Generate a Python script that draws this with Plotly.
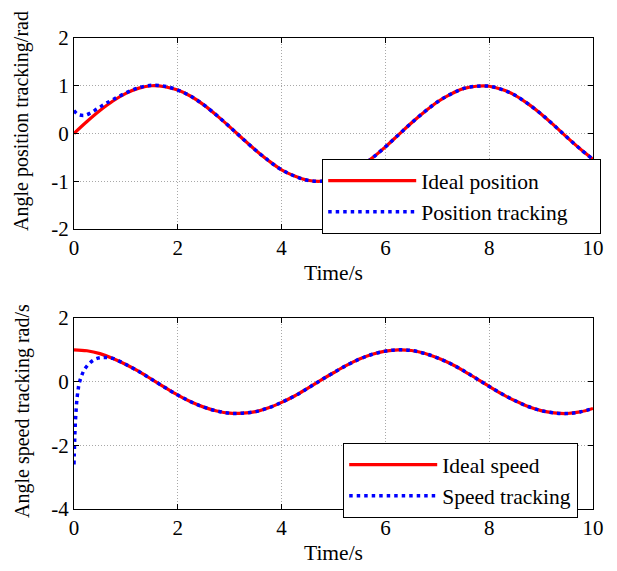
import plotly.graph_objects as go

# ---- data ----
t_ideal = [0, 0.25, 0.5, 0.75, 1, 1.25, 1.5, 1.75, 2, 2.25, 2.5, 2.75, 3, 3.25, 3.5, 3.75,
           4, 4.25, 4.5, 4.75, 5, 5.25, 5.5, 5.75, 6, 6.25, 6.5, 6.75, 7, 7.25, 7.5, 7.75,
           8, 8.25, 8.5, 8.75, 9, 9.25, 9.5, 9.75, 10]
pos_ideal = [0, 0.25, 0.48, 0.68, 0.84, 0.95, 1.00, 0.98, 0.91, 0.78, 0.60, 0.38, 0.14,
             -0.11, -0.35, -0.57, -0.76, -0.89, -0.98, -1.00, -0.96, -0.86, -0.71, -0.51,
             -0.28, -0.03, 0.22, 0.45, 0.66, 0.82, 0.94, 0.99, 0.99, 0.92, 0.80, 0.62, 0.41,
             0.17, -0.08, -0.32, -0.54]
spd_ideal = [1.00, 0.97, 0.88, 0.73, 0.54, 0.32, 0.07, -0.18, -0.42, -0.63, -0.80, -0.92,
             -0.99, -0.99, -0.94, -0.82, -0.65, -0.45, -0.21, 0.04, 0.28, 0.51, 0.71, 0.86,
             0.96, 1.00, 0.98, 0.89, 0.75, 0.57, 0.35, 0.10, -0.15, -0.39, -0.60, -0.78,
             -0.91, -0.98, -1.00, -0.95, -0.84]

t_pos_track = [0, 0.05, 0.1, 0.2, 0.3, 0.45, 0.6, 0.75, 1, 1.25, 1.5, 1.75, 2, 2.25, 2.5,
               2.75, 3, 3.25, 3.5, 3.75, 4, 4.25, 4.5, 4.75, 5, 5.25, 5.5, 5.75, 6, 6.25,
               6.5, 6.75, 7, 7.25, 7.5, 7.75, 8, 8.25, 8.5, 8.75, 9, 9.25, 9.5, 9.75, 10]
pos_track = [0.48, 0.42, 0.39, 0.38, 0.42, 0.52, 0.62, 0.71, 0.85, 0.96, 1.01, 0.99, 0.91,
             0.78, 0.60, 0.38, 0.14, -0.11, -0.35, -0.57, -0.76, -0.89, -0.98, -1.00,
             -0.96, -0.86, -0.71, -0.51, -0.28, -0.03, 0.22, 0.45, 0.66, 0.82, 0.94, 0.99,
             0.99, 0.92, 0.80, 0.62, 0.41, 0.17, -0.08, -0.32, -0.54]

t_spd_track = [0, 0.01, 0.02, 0.04, 0.06, 0.08, 0.1, 0.15, 0.2, 0.3, 0.4, 0.5, 0.6, 0.75,
               1, 1.25, 1.5, 1.75, 2, 2.25, 2.5, 2.75, 3, 3.25, 3.5, 3.75, 4, 4.25, 4.5,
               4.75, 5, 5.25, 5.5, 5.75, 6, 6.25, 6.5, 6.75, 7, 7.25, 7.5, 7.75, 8, 8.25,
               8.5, 8.75, 9, 9.25, 9.5, 9.75, 10]
spd_track = [-2.6, -2.0, -1.5, -0.9, -0.5, -0.25, -0.05, 0.2, 0.38, 0.58, 0.70, 0.75, 0.76,
             0.73, 0.54, 0.32, 0.07, -0.18, -0.42, -0.63, -0.80, -0.92, -0.99, -0.99, -0.94,
             -0.82, -0.65, -0.45, -0.21, 0.04, 0.28, 0.51, 0.71, 0.86, 0.96, 1.00, 0.98,
             0.89, 0.75, 0.57, 0.35, 0.10, -0.15, -0.39, -0.60, -0.78, -0.91, -0.98, -1.00,
             -0.95, -0.84]

x_ticks = [0, 2, 4, 6, 8, 10]
x_labels = ["0", "2", "4", "6", "8", "10"]
y1_ticks = [-2, -1, 0, 1, 2]
y1_labels = ["-2", "-1", "0", "1", "2"]
y2_ticks = [-4, -2, 0, 2]
y2_labels = ["-4", "-2", "0", "2"]

FONT = "Liberation Serif, Times New Roman, serif"
RED = "#ff0000"
BLUE = "#0000ff"
PAD = "\u00a0" * 5  # trailing non-breaking spaces widen the upper legend box

fig = go.Figure()
fig.add_trace(go.Scatter(x=t_ideal, y=pos_ideal, name="Ideal position", mode="lines",
                         line=dict(color=RED, width=3.2, shape="spline"),
                         xaxis="x", yaxis="y", legend="legend", legendgroup="a"))
fig.add_trace(go.Scatter(x=t_pos_track, y=pos_track, name="Position tracking" + PAD,
                         mode="lines",
                         line=dict(color=BLUE, width=3.5, dash="3.5px,4px", shape="spline"),
                         xaxis="x", yaxis="y", legend="legend", legendgroup="b"))
fig.add_trace(go.Scatter(x=t_ideal, y=spd_ideal, name="Ideal speed", mode="lines",
                         line=dict(color=RED, width=3.2, shape="spline"),
                         xaxis="x2", yaxis="y2", legend="legend2", legendgroup="c"))
fig.add_trace(go.Scatter(x=t_spd_track, y=spd_track, name="Speed tracking", mode="lines",
                         line=dict(color=BLUE, width=3.5, dash="3.5px,4px", shape="spline"),
                         xaxis="x2", yaxis="y2", legend="legend2", legendgroup="d"))

# the page body adds an 8px margin, so the figure is 8px smaller than the window
OFF = 8
W, H = 617 - OFF, 571 - OFF

def px(x):
    return (x - OFF) / W

def py(y):
    return (H - (y - OFF)) / H

def ax_common():
    return dict(showline=True, linecolor="black", linewidth=1.2, mirror="ticks",
                ticks="inside", ticklen=5, tickcolor="black", automargin=False,
                showgrid=True, gridcolor="#a8a8a8", griddash="1px,2px", gridwidth=1,
                zeroline=False, tickfont=dict(family=FONT, size=21, color="black"))

xa = ax_common()
xa.update(range=[0, 10], tickvals=x_ticks, ticktext=x_labels, domain=[px(74), px(593)],
          title=dict(text="Time/s", font=dict(family=FONT, size=21.5, color="black"),
                     standoff=5))
ya1 = ax_common()
ya1.update(range=[-2, 2], tickvals=y1_ticks, ticktext=y1_labels,
           domain=[py(229), py(38)], anchor="x")
ya2 = ax_common()
ya2.update(range=[-4, 2], tickvals=y2_ticks, ticktext=y2_labels,
           domain=[py(509), py(318)], anchor="x2")

legend_common = dict(bgcolor="white", bordercolor="black", borderwidth=1.2,
                     font=dict(family=FONT, size=21.5, color="black"),
                     xanchor="left", yanchor="top", itemwidth=88, tracegroupgap=4,
                     traceorder="normal")

title_font = dict(family=FONT, size=20, color="black")

fig.update_layout(
    xaxis=dict(xa, anchor="y"),
    xaxis2=dict(xa, anchor="y2"),
    yaxis=ya1, yaxis2=ya2,
    width=W, height=H,
    margin=dict(l=0, r=0, t=0, b=0),
    paper_bgcolor="white", plot_bgcolor="white",
    showlegend=True,
    legend=dict(legend_common, x=px(322), y=py(159)),
    legend2=dict(legend_common, x=px(343), y=py(443)),
    font=dict(family=FONT, color="black"),
    annotations=[
        dict(text="Angle position tracking/rad", textangle=-90, xref="paper", yref="paper",
             x=px(22), y=py(121), xanchor="center", yanchor="middle", showarrow=False,
             font=title_font),
        dict(text="Angle speed tracking rad/s", textangle=-90, xref="paper", yref="paper",
             x=px(22), y=py(411), xanchor="center", yanchor="middle", showarrow=False,
             font=title_font),
    ],
)

fig.write_html("out.html")
